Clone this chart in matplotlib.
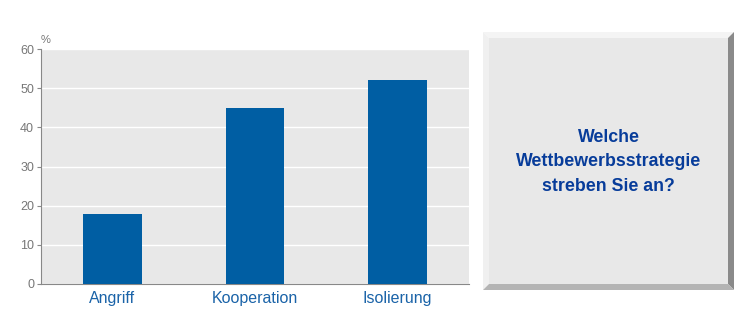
import matplotlib.pyplot as plt
from matplotlib.patches import Polygon

plt.rcParams["font.family"] = ["Liberation Sans", "DejaVu Sans"]

categories = ["Angriff", "Kooperation", "Isolierung"]
values = [18, 45, 52]
yticks = [0, 10, 20, 30, 40, 50, 60]
question = "Welche\nWettbewerbsstrategie\nstreben Sie an?"

W, H = 740, 317
fig = plt.figure(figsize=(W / 100, H / 100), dpi=100)

# bar chart
ax = fig.add_axes([41 / W, 33 / H, 428 / W, 235 / H])
ax.set_facecolor("#e8e8e8")
x = range(len(categories))
ax.bar(x, values, width=0.41, color="#005ea3", zorder=3)
ax.set_xlim(-0.5, 2.5)
ax.set_ylim(0, 60)
ax.set_yticks(yticks)
ax.set_xticks(list(x))
ax.set_xticklabels(categories, color="#1a63a8", fontsize=11.5)
ax.tick_params(axis="x", length=0, pad=5)
ax.tick_params(axis="y", length=3, color="#888888", labelcolor="#777777",
               labelsize=9, pad=2)
ax.grid(axis="y", color="white", linewidth=1, zorder=1)
for side in ["top", "right"]:
    ax.spines[side].set_visible(False)
for side in ["left", "bottom"]:
    ax.spines[side].set_color("#888888")
ax.text(0, 1.015, "%", transform=ax.transAxes, fontsize=8, color="#777777",
        ha="left", va="bottom")

# bevelled question box, in pixel-ish coords
bx = fig.add_axes([0, 0, 1, 1], zorder=-1)
bx.set_xlim(0, W)
bx.set_ylim(H, 0)
bx.axis("off")
x0, x1, y0, y1, b = 483, 734, 32, 290, 6
bx.add_patch(Polygon([(x0, y0), (x1, y0), (x1 - b, y0 + b), (x0 + b, y0 + b)],
                     closed=True, color="#f4f4f4", lw=0))
bx.add_patch(Polygon([(x0, y0), (x0 + b, y0 + b), (x0 + b, y1 - b), (x0, y1)],
                     closed=True, color="#f0f0f0", lw=0))
bx.add_patch(Polygon([(x1, y0), (x1, y1), (x1 - b, y1 - b), (x1 - b, y0 + b)],
                     closed=True, color="#8a8a8a", lw=0))
bx.add_patch(Polygon([(x0, y1), (x0 + b, y1 - b), (x1 - b, y1 - b), (x1, y1)],
                     closed=True, color="#b4b4b4", lw=0))
bx.add_patch(Polygon([(x0 + b, y0 + b), (x1 - b, y0 + b), (x1 - b, y1 - b),
                      (x0 + b, y1 - b)], closed=True, color="#e8e8e8", lw=0))
bx.text((x0 + x1) / 2, 162, question, ha="center", va="center",
        fontsize=12.8, fontweight="bold", color="#073c9a", linespacing=1.55)

fig.savefig("out.png", dpi=100)
